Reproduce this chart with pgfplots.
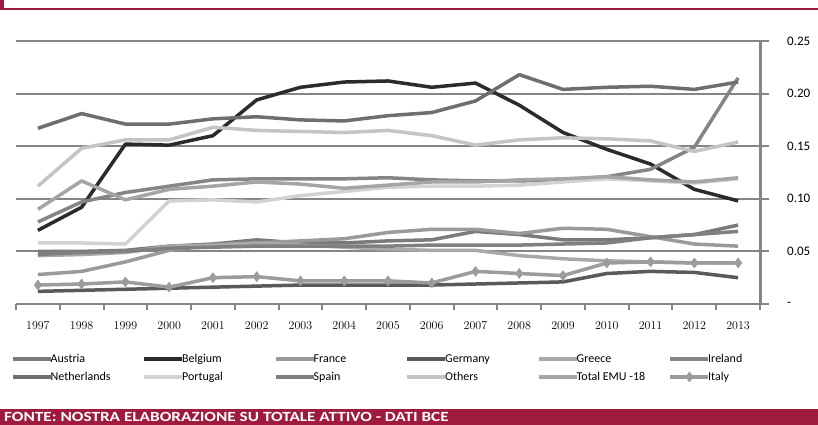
\documentclass[border=0pt]{standalone}
\usepackage{pgfplots}
\pgfplotsset{compat=1.18}
\usepackage{fontspec}
\setmainfont{Carlito}
\definecolor{crim}{HTML}{9E1B3E}
\definecolor{axgray}{HTML}{858585}
\definecolor{cAustria}{HTML}{7A7A7A}
\definecolor{cBelgium}{HTML}{2B2B2B}
\definecolor{cFrance}{HTML}{9A9A9A}
\definecolor{cGermany}{HTML}{5A5A5A}
\definecolor{cGreece}{HTML}{A8A8A8}
\definecolor{cIreland}{HTML}{858585}
\definecolor{cNetherlands}{HTML}{6E6E6E}
\definecolor{cPortugal}{HTML}{D2D2D2}
\definecolor{cSpain}{HTML}{808080}
\definecolor{cOthers}{HTML}{C4C4C4}
\definecolor{cTotal}{HTML}{A5A5A5}
\definecolor{cItaly}{HTML}{9C9C9C}
\newcommand{\LE}[1]{\makebox[86pt][l]{\hspace*{-4pt}#1}}
\begin{document}
\begin{tikzpicture}[x=1pt,y=1pt]
\useasboundingbox (0,0) rectangle (818,425);
\fill[white] (0,0) rectangle (818,425);
\fill[crim] (0,0) rectangle (818,16);
\node[anchor=base west,text=white,inner sep=0pt,font=\bfseries\fontsize{14}{16}\selectfont] at (4,3) {\scalebox{1.23}[1]{FONTE: NOSTRA ELABORAZIONE SU TOTALE ATTIVO - DATI BCE}};
\draw[crim,line width=1.5pt] (0,416) -- (818,416);
\fill[crim] (0,415) rectangle (3.5,425);
\begin{axis}[
  at={(16pt,121pt)}, anchor=south west,
  scale only axis, width=744pt, height=263pt,
  xmin=1996.5, xmax=2013.5, ymin=0, ymax=0.25,
  clip=false,
  axis x line*=bottom, axis y line*=right,
  axis line style={draw=axgray, line width=2.5pt, -},
  xtick={1997,...,2013},
  x tick label style={/pgf/number format/1000 sep={}, font=\fontsize{11.5}{13}\selectfont, yshift=-5pt},
  major x tick style={draw=none},
  minor xtick={1996.5,1997.5,...,2013.5},
  minor x tick style={draw=axgray, line width=2pt},
  minor tick length=6pt,
  xtick align=outside, ytick align=outside,
  ytick={0,0.05,0.1,0.15,0.2,0.25},
  yticklabels={-,0.05,0.10,0.15,0.20,0.25},
  yticklabel style={font=\fontsize{13}{15}\selectfont, anchor=west, inner sep=0pt, xshift=18pt},
  major tick length=9pt,
  y tick style={draw=axgray, line width=2pt},
  ymajorgrids,
  grid style={draw=axgray, line width=2pt},
  every axis plot/.append style={line width=3.5pt, line join=round},
  extra description/.code={\draw[axgray, line width=3pt] (rel axis cs:1,0) -- (rel axis cs:1,1);},
  legend columns=6,
  legend style={at={(0,0)}, anchor=north west, xshift=-5pt, yshift=-49pt,
    draw=none, fill=none, inner sep=0pt, row sep=6pt, column sep=1pt,
    font=\fontsize{12}{14}\selectfont, nodes={inner sep=1pt}},
  legend cell align=left,
  legend image code/.code={\draw[#1,mark repeat=2,mark phase=2] plot coordinates {(0pt,0pt) (19pt,0pt) (38pt,0pt)};},
]
% Austria
\addplot[cAustria, no markers] coordinates {(1997,0.050)(1998,0.050)(1999,0.051)(2000,0.055)(2001,0.057)(2002,0.061)(2003,0.058)(2004,0.058)(2005,0.060)(2006,0.061)(2007,0.069)(2008,0.066)(2009,0.061)(2010,0.061)(2011,0.063)(2012,0.066)(2013,0.075)};
\addlegendentry{\LE{Austria}}
% Belgium
\addplot[cBelgium, no markers] coordinates {(1997,0.070)(1998,0.092)(1999,0.152)(2000,0.151)(2001,0.160)(2002,0.194)(2003,0.206)(2004,0.211)(2005,0.212)(2006,0.206)(2007,0.210)(2008,0.189)(2009,0.163)(2010,0.147)(2011,0.133)(2012,0.109)(2013,0.098)};
\addlegendentry{\LE{Belgium}}
% France
\addplot[cFrance, no markers] coordinates {(1997,0.028)(1998,0.031)(1999,0.040)(2000,0.051)(2001,0.056)(2002,0.058)(2003,0.060)(2004,0.062)(2005,0.068)(2006,0.071)(2007,0.071)(2008,0.067)(2009,0.072)(2010,0.071)(2011,0.064)(2012,0.057)(2013,0.055)};
\addlegendentry{\LE{France}}
% Germany
\addplot[cGermany, no markers] coordinates {(1997,0.012)(1998,0.013)(1999,0.014)(2000,0.015)(2001,0.016)(2002,0.017)(2003,0.018)(2004,0.018)(2005,0.018)(2006,0.018)(2007,0.019)(2008,0.020)(2009,0.021)(2010,0.029)(2011,0.031)(2012,0.030)(2013,0.025)};
\addlegendentry{\LE{Germany}}
% Greece
\addplot[cGreece, no markers] coordinates {(1997,0.046)(1998,0.047)(1999,0.049)(2000,0.055)(2001,0.056)(2002,0.058)(2003,0.056)(2004,0.054)(2005,0.052)(2006,0.051)(2007,0.051)(2008,0.046)(2009,0.043)(2010,0.041)(2011,0.040)(2012,0.039)(2013,0.039)};
\addlegendentry{\LE{Greece}}
% Ireland
\addplot[cIreland, no markers] coordinates {(1997,0.078)(1998,0.097)(1999,0.106)(2000,0.112)(2001,0.118)(2002,0.119)(2003,0.119)(2004,0.119)(2005,0.120)(2006,0.118)(2007,0.117)(2008,0.117)(2009,0.118)(2010,0.121)(2011,0.128)(2012,0.149)(2013,0.215)};
\addlegendentry{\LE{Ireland}}
% Netherlands
\addplot[cNetherlands, no markers] coordinates {(1997,0.167)(1998,0.181)(1999,0.171)(2000,0.171)(2001,0.176)(2002,0.178)(2003,0.175)(2004,0.174)(2005,0.179)(2006,0.182)(2007,0.193)(2008,0.218)(2009,0.204)(2010,0.206)(2011,0.207)(2012,0.204)(2013,0.211)};
\addlegendentry{\LE{Netherlands}}
% Portugal
\addplot[cPortugal, no markers] coordinates {(1997,0.058)(1998,0.058)(1999,0.057)(2000,0.098)(2001,0.099)(2002,0.097)(2003,0.103)(2004,0.107)(2005,0.111)(2006,0.112)(2007,0.112)(2008,0.113)(2009,0.116)(2010,0.119)(2011,0.117)(2012,0.115)(2013,0.119)};
\addlegendentry{\LE{Portugal}}
% Spain
\addplot[cSpain, no markers] coordinates {(1997,0.047)(1998,0.049)(1999,0.050)(2000,0.053)(2001,0.054)(2002,0.055)(2003,0.055)(2004,0.055)(2005,0.055)(2006,0.056)(2007,0.056)(2008,0.056)(2009,0.057)(2010,0.058)(2011,0.063)(2012,0.066)(2013,0.069)};
\addlegendentry{\LE{Spain}}
% Others
\addplot[cOthers, no markers] coordinates {(1997,0.112)(1998,0.148)(1999,0.156)(2000,0.156)(2001,0.168)(2002,0.165)(2003,0.164)(2004,0.163)(2005,0.165)(2006,0.160)(2007,0.151)(2008,0.156)(2009,0.158)(2010,0.157)(2011,0.155)(2012,0.145)(2013,0.154)};
\addlegendentry{\LE{Others}}
% Total EMU-18
\addplot[cTotal, no markers] coordinates {(1997,0.090)(1998,0.117)(1999,0.099)(2000,0.109)(2001,0.112)(2002,0.116)(2003,0.114)(2004,0.110)(2005,0.113)(2006,0.116)(2007,0.116)(2008,0.118)(2009,0.119)(2010,0.121)(2011,0.118)(2012,0.116)(2013,0.120)};
\addlegendentry{\LE{Total EMU -18}}
% Italy
\addplot[cItaly, mark=diamond*, mark size=5pt, mark options={fill=cItaly, draw=cItaly, line width=0.5pt}] coordinates {(1997,0.018)(1998,0.019)(1999,0.021)(2000,0.016)(2001,0.025)(2002,0.026)(2003,0.022)(2004,0.022)(2005,0.022)(2006,0.020)(2007,0.031)(2008,0.029)(2009,0.027)(2010,0.039)(2011,0.040)(2012,0.039)(2013,0.039)};
\addlegendentry{\LE{Italy}}
\end{axis}
\end{tikzpicture}
\end{document}
